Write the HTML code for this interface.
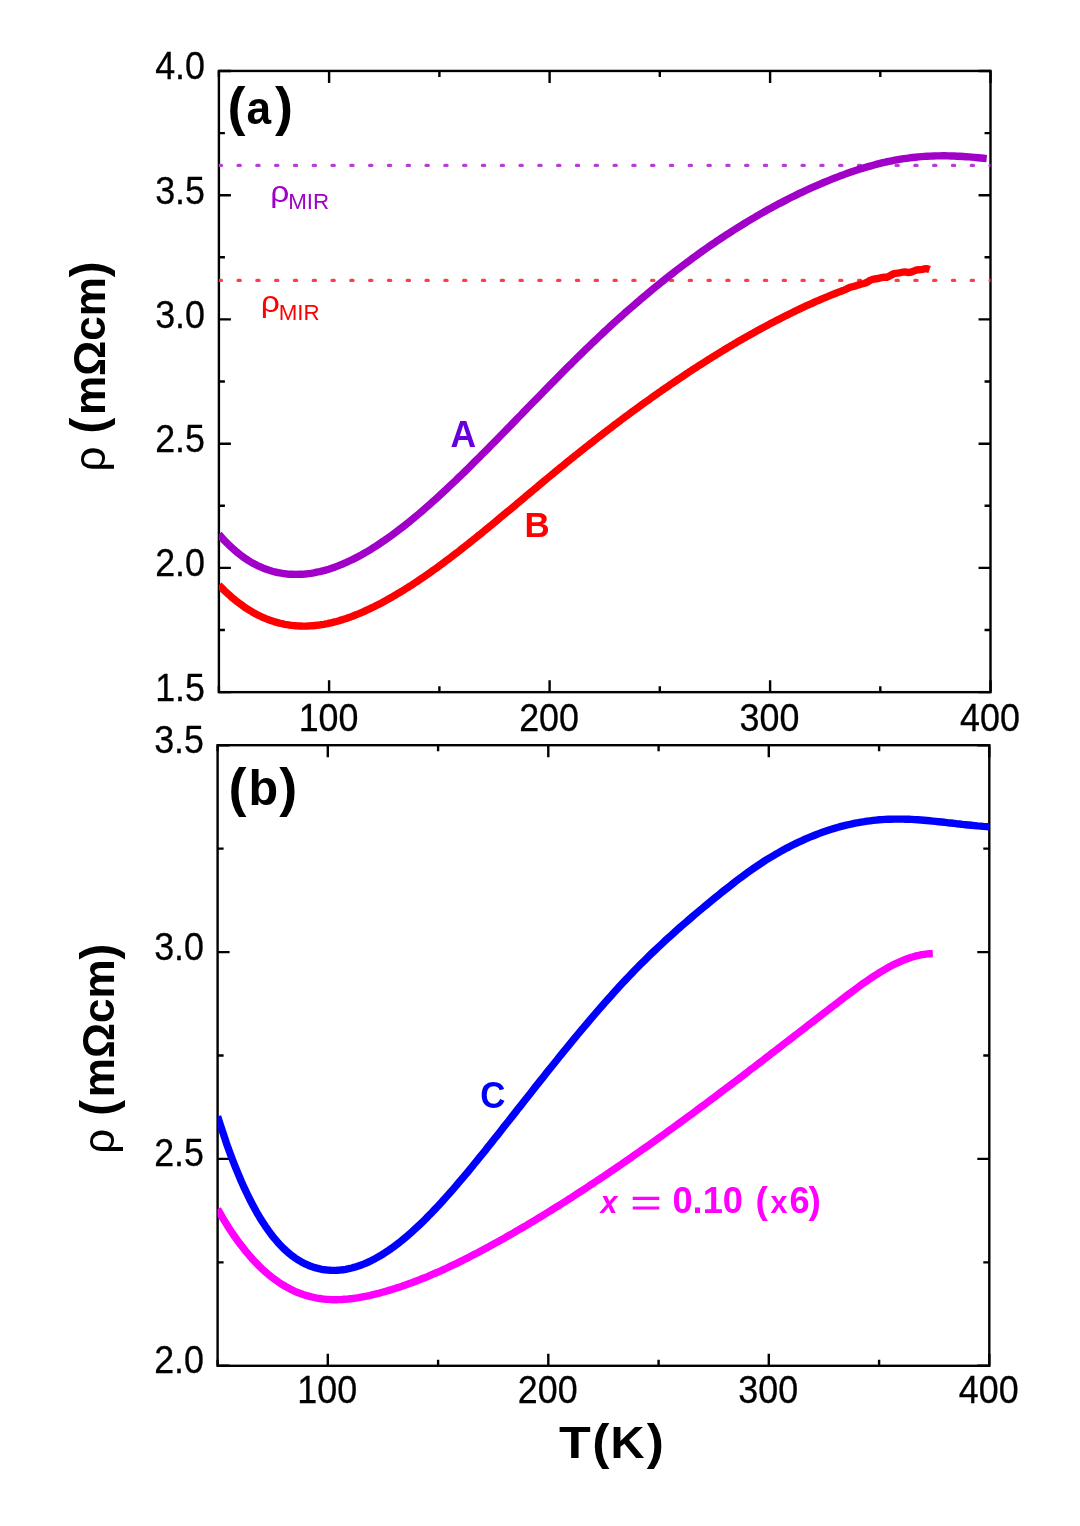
<!DOCTYPE html>
<html><head><meta charset="utf-8"><title>Resistivity</title>
<style>html,body{margin:0;padding:0;background:#fff}svg{display:block;will-change:transform}text{font-family:"Liberation Sans",sans-serif}</style></head><body>
<svg width="1080" height="1526" viewBox="0 0 1080 1526">
<rect width="1080" height="1526" fill="#fff"/>
<rect x="218.9" y="70.95" width="771.6" height="621.2" fill="none" stroke="#000" stroke-width="2.4"/>
<path d="M218.9,692.15v-6.0M218.9,70.95v6.0M329.1,692.15v-12.0M329.1,70.95v12.0M439.4,692.15v-6.0M439.4,70.95v6.0M549.6,692.15v-12.0M549.6,70.95v12.0M659.8,692.15v-6.0M659.8,70.95v6.0M770.1,692.15v-12.0M770.1,70.95v12.0M880.3,692.15v-6.0M880.3,70.95v6.0M990.5,692.15v-12.0M990.5,70.95v12.0M218.9,71.0h12.0M990.55,71.0h-12.0M218.9,195.2h12.0M990.55,195.2h-12.0M218.9,319.4h12.0M990.55,319.4h-12.0M218.9,443.7h12.0M990.55,443.7h-12.0M218.9,567.9h12.0M990.55,567.9h-12.0M218.9,692.1h12.0M990.55,692.1h-12.0M218.9,133.1h6.0M990.55,133.1h-6.0M218.9,257.3h6.0M990.55,257.3h-6.0M218.9,381.5h6.0M990.55,381.5h-6.0M218.9,505.8h6.0M990.55,505.8h-6.0M218.9,630.0h6.0M990.55,630.0h-6.0" fill="none" stroke="#000" stroke-width="2.4"/>
<clipPath id="ca"><rect x="218.9" y="70.95" width="771.6" height="621.2"/></clipPath>
<g clip-path="url(#ca)">
<path d="M219.2,165.4H993.55" stroke="#B93CD7" stroke-width="3.2" stroke-dasharray="2.3 16.5" stroke-linecap="round" fill="none"/>
<path d="M219.2,280.4H993.55" stroke="#FF3D4A" stroke-width="3.2" stroke-dasharray="2.3 16.5" stroke-linecap="round" fill="none"/>
<path d="M218.9,534.3 L221.9,537.7 L224.8,540.9 L227.8,543.9 L230.8,546.7 L233.7,549.4 L236.7,552.0 L239.7,554.4 L242.6,556.6 L245.6,558.7 L248.5,560.6 L251.5,562.4 L254.5,564.0 L257.4,565.6 L260.4,566.9 L263.4,568.2 L266.3,569.3 L269.3,570.3 L272.3,571.2 L275.2,572.0 L278.2,572.6 L281.2,573.2 L284.1,573.6 L287.1,574.0 L290.0,574.2 L293.0,574.3 L296.0,574.4 L298.9,574.3 L301.9,574.2 L304.9,574.0 L307.8,573.7 L310.8,573.3 L313.8,572.8 L316.7,572.2 L319.7,571.6 L322.7,570.9 L325.6,570.1 L328.6,569.2 L331.6,568.2 L334.5,567.2 L337.5,566.1 L340.4,564.9 L343.4,563.7 L346.4,562.4 L349.3,561.0 L352.3,559.6 L355.3,558.1 L358.2,556.6 L361.2,555.0 L364.2,553.3 L367.1,551.6 L370.1,549.8 L373.1,547.9 L376.0,546.1 L379.0,544.1 L381.9,542.1 L384.9,540.1 L387.9,538.0 L390.8,535.9 L393.8,533.7 L396.8,531.5 L399.7,529.3 L402.7,527.0 L405.7,524.7 L408.6,522.3 L411.6,519.9 L414.6,517.4 L417.5,515.0 L420.5,512.5 L423.4,509.9 L426.4,507.3 L429.4,504.7 L432.3,502.1 L435.3,499.4 L438.3,496.7 L441.2,494.0 L444.2,491.3 L447.2,488.5 L450.1,485.7 L453.1,482.9 L456.1,480.1 L459.0,477.2 L462.0,474.4 L465.0,471.5 L467.9,468.6 L470.9,465.6 L473.8,462.7 L476.8,459.7 L479.8,456.8 L482.7,453.8 L485.7,450.8 L488.7,447.8 L491.6,444.8 L494.6,441.8 L497.6,438.8 L500.5,435.8 L503.5,432.7 L506.5,429.7 L509.4,426.7 L512.4,423.6 L515.3,420.6 L518.3,417.5 L521.3,414.5 L524.2,411.4 L527.2,408.4 L530.2,405.3 L533.1,402.3 L536.1,399.3 L539.1,396.2 L542.0,393.2 L545.0,390.2 L548.0,387.1 L550.9,384.1 L553.9,381.1 L556.9,378.1 L559.8,375.1 L562.8,372.1 L565.7,369.2 L568.7,366.2 L571.7,363.3 L574.6,360.3 L577.6,357.4 L580.6,354.5 L583.5,351.6 L586.5,348.7 L589.5,345.9 L592.4,343.0 L595.4,340.2 L598.4,337.4 L601.3,334.6 L604.3,331.8 L607.2,329.1 L610.2,326.3 L613.2,323.6 L616.1,320.9 L619.1,318.2 L622.1,315.6 L625.0,312.9 L628.0,310.3 L631.0,307.7 L633.9,305.2 L636.9,302.6 L639.9,300.1 L642.8,297.5 L645.8,295.1 L648.7,292.6 L651.7,290.1 L654.7,287.7 L657.6,285.3 L660.6,282.9 L663.6,280.5 L666.5,278.1 L669.5,275.8 L672.5,273.5 L675.4,271.2 L678.4,268.9 L681.4,266.6 L684.3,264.4 L687.3,262.2 L690.3,260.0 L693.2,257.8 L696.2,255.7 L699.1,253.5 L702.1,251.4 L705.1,249.3 L708.0,247.2 L711.0,245.2 L714.0,243.2 L716.9,241.1 L719.9,239.2 L722.9,237.2 L725.8,235.2 L728.8,233.3 L731.8,231.4 L734.7,229.5 L737.7,227.6 L740.6,225.8 L743.6,224.0 L746.6,222.1 L749.5,220.4 L752.5,218.6 L755.5,216.9 L758.4,215.1 L761.4,213.4 L764.4,211.7 L767.3,210.1 L770.3,208.4 L773.3,206.8 L776.2,205.2 L779.2,203.6 L782.2,202.1 L785.1,200.6 L788.1,199.0 L791.0,197.5 L794.0,196.1 L797.0,194.6 L799.9,193.2 L802.9,191.8 L805.9,190.4 L808.8,189.0 L811.8,187.7 L814.8,186.4 L817.7,185.1 L820.7,183.8 L823.7,182.5 L826.6,181.3 L829.6,180.1 L832.5,178.9 L835.5,177.7 L838.5,176.6 L841.4,175.4 L844.4,174.4 L847.4,173.3 L850.3,172.3 L853.3,171.2 L856.3,170.3 L859.2,169.3 L862.2,168.4 L865.2,167.5 L868.1,166.6 L871.1,165.8 L874.0,165.0 L877.0,164.2 L880.0,163.4 L882.9,162.7 L885.9,162.0 L888.9,161.4 L891.8,160.8 L894.8,160.2 L897.8,159.7 L900.7,159.2 L903.7,158.7 L906.7,158.3 L909.6,157.9 L912.6,157.5 L915.6,157.2 L918.5,156.9 L921.5,156.6 L924.4,156.4 L927.4,156.2 L930.4,156.1 L933.3,156.0 L936.3,155.9 L939.3,155.9 L942.2,155.8 L945.2,155.8 L948.2,155.9 L951.1,156.0 L954.1,156.0 L957.1,156.2 L960.0,156.3 L963.0,156.5 L965.9,156.7 L968.9,156.9 L971.9,157.1 L974.8,157.4 L977.8,157.7 L980.8,158.0 L983.7,158.3 L986.7,158.6" fill="none" stroke="#A000C8" stroke-width="7.4" stroke-linejoin="round"/>
<path d="M218.9,585.0 L220.7,586.8 L222.5,588.6 L224.2,590.4 L226.0,592.1 L227.8,593.7 L229.6,595.3 L231.4,596.9 L233.1,598.4 L234.9,599.9 L236.7,601.3 L238.5,602.7 L240.3,604.0 L242.1,605.3 L243.8,606.6 L245.6,607.8 L247.4,609.0 L249.2,610.1 L251.0,611.2 L252.7,612.2 L254.5,613.2 L256.3,614.2 L258.1,615.1 L259.9,616.0 L261.6,616.8 L263.4,617.6 L265.2,618.4 L267.0,619.1 L268.8,619.8 L270.6,620.4 L272.3,621.0 L274.1,621.6 L275.9,622.1 L277.7,622.6 L279.5,623.1 L281.2,623.5 L283.0,623.9 L284.8,624.3 L286.6,624.6 L288.4,624.9 L290.1,625.2 L291.9,625.4 L293.7,625.6 L295.5,625.7 L297.3,625.9 L299.1,626.0 L300.8,626.0 L302.6,626.1 L304.4,626.1 L306.2,626.1 L308.0,626.0 L309.7,625.9 L311.5,625.8 L313.3,625.7 L315.1,625.5 L316.9,625.3 L318.6,625.1 L320.4,624.8 L322.2,624.6 L324.0,624.3 L325.8,623.9 L327.6,623.6 L329.3,623.2 L331.1,622.8 L332.9,622.4 L334.7,621.9 L336.5,621.5 L338.2,621.0 L340.0,620.4 L341.8,619.9 L343.6,619.3 L345.4,618.8 L347.1,618.2 L348.9,617.5 L350.7,616.9 L352.5,616.2 L354.3,615.5 L356.1,614.8 L357.8,614.1 L359.6,613.4 L361.4,612.6 L363.2,611.8 L365.0,611.0 L366.7,610.2 L368.5,609.4 L370.3,608.5 L372.1,607.7 L373.9,606.8 L375.6,605.9 L377.4,605.0 L379.2,604.1 L381.0,603.2 L382.8,602.2 L384.6,601.2 L386.3,600.3 L388.1,599.3 L389.9,598.3 L391.7,597.3 L393.5,596.2 L395.2,595.2 L397.0,594.1 L398.8,593.1 L400.6,592.0 L402.4,590.9 L404.1,589.8 L405.9,588.7 L407.7,587.6 L409.5,586.4 L411.3,585.3 L413.1,584.1 L414.8,583.0 L416.6,581.8 L418.4,580.6 L420.2,579.4 L422.0,578.2 L423.7,577.0 L425.5,575.8 L427.3,574.5 L429.1,573.3 L430.9,572.0 L432.6,570.7 L434.4,569.5 L436.2,568.2 L438.0,566.9 L439.8,565.6 L441.6,564.3 L443.3,563.0 L445.1,561.6 L446.9,560.3 L448.7,559.0 L450.5,557.6 L452.2,556.3 L454.0,554.9 L455.8,553.5 L457.6,552.2 L459.4,550.8 L461.1,549.4 L462.9,548.0 L464.7,546.6 L466.5,545.2 L468.3,543.8 L470.0,542.4 L471.8,541.0 L473.6,539.5 L475.4,538.1 L477.2,536.7 L479.0,535.2 L480.7,533.8 L482.5,532.3 L484.3,530.9 L486.1,529.4 L487.9,528.0 L489.6,526.5 L491.4,525.1 L493.2,523.6 L495.0,522.1 L496.8,520.6 L498.5,519.2 L500.3,517.7 L502.1,516.2 L503.9,514.7 L505.7,513.2 L507.5,511.7 L509.2,510.3 L511.0,508.8 L512.8,507.3 L514.6,505.8 L516.4,504.3 L518.1,502.8 L519.9,501.3 L521.7,499.8 L523.5,498.3 L525.3,496.8 L527.0,495.3 L528.8,493.8 L530.6,492.3 L532.4,490.8 L534.2,489.4 L536.0,487.9 L537.7,486.4 L539.5,484.9 L541.3,483.4 L543.1,481.9 L544.9,480.4 L546.6,479.0 L548.4,477.5 L550.2,476.0 L552.0,474.5 L553.8,473.1 L555.5,471.6 L557.3,470.1 L559.1,468.7 L560.9,467.2 L562.7,465.8 L564.5,464.3 L566.2,462.9 L568.0,461.4 L569.8,460.0 L571.6,458.5 L573.4,457.1 L575.1,455.7 L576.9,454.3 L578.7,452.8 L580.5,451.4 L582.3,450.0 L584.0,448.6 L585.8,447.2 L587.6,445.8 L589.4,444.4 L591.2,443.0 L593.0,441.6 L594.7,440.2 L596.5,438.8 L598.3,437.4 L600.1,436.0 L601.9,434.6 L603.6,433.3 L605.4,431.9 L607.2,430.5 L609.0,429.2 L610.8,427.8 L612.5,426.5 L614.3,425.1 L616.1,423.8 L617.9,422.4 L619.7,421.1 L621.5,419.7 L623.2,418.4 L625.0,417.1 L626.8,415.8 L628.6,414.4 L630.4,413.1 L632.1,411.8 L633.9,410.5 L635.7,409.2 L637.5,407.9 L639.3,406.6 L641.0,405.3 L642.8,404.0 L644.6,402.7 L646.4,401.5 L648.2,400.2 L650.0,398.9 L651.7,397.6 L653.5,396.4 L655.3,395.1 L657.1,393.9 L658.9,392.6 L660.6,391.4 L662.4,390.1 L664.2,388.9 L666.0,387.7 L667.8,386.4 L669.5,385.2 L671.3,384.0 L673.1,382.8 L674.9,381.6 L676.7,380.4 L678.5,379.2 L680.2,378.0 L682.0,376.8 L683.8,375.6 L685.6,374.4 L687.4,373.2 L689.1,372.0 L690.9,370.9 L692.7,369.7 L694.5,368.5 L696.3,367.4 L698.0,366.2 L699.8,365.1 L701.6,364.0 L703.4,362.8 L705.2,361.7 L706.9,360.6 L708.7,359.4 L710.5,358.3 L712.3,357.2 L714.1,356.1 L715.9,355.0 L717.6,353.9 L719.4,352.8 L721.2,351.7 L723.0,350.6 L724.8,349.5 L726.5,348.5 L728.3,347.4 L730.1,346.3 L731.9,345.3 L733.7,344.2 L735.4,343.2 L737.2,342.1 L739.0,341.1 L740.8,340.1 L742.6,339.0 L744.4,338.0 L746.1,337.0 L747.9,336.0 L749.7,335.0 L751.5,334.0 L753.3,333.0 L755.0,332.0 L756.8,331.0 L758.6,330.0 L760.4,329.1 L762.2,328.1 L763.9,327.1 L765.7,326.2 L767.5,325.2 L769.3,324.3 L771.1,323.3 L772.9,322.4 L774.6,321.5 L776.4,320.5 L778.2,319.6 L780.0,318.7 L781.8,317.8 L783.5,316.9 L785.3,316.0 L787.1,315.1 L788.9,314.2 L790.7,313.3 L792.4,312.5 L794.2,311.6 L796.0,310.7 L797.8,309.9 L799.6,309.0 L801.4,308.2 L803.1,307.4 L804.9,306.5 L806.7,305.7 L808.5,304.9 L810.3,304.1 L812.0,303.3 L813.8,302.5 L815.6,301.7 L817.4,300.9 L819.2,300.2 L820.9,299.4 L822.7,298.6 L824.5,297.9 L826.3,297.1 L828.1,296.4 L829.9,295.6 L831.6,294.9 L833.4,294.2 L835.2,293.5 L837.0,292.8 L838.8,292.1 L840.5,291.5 L842.3,290.8 L844.1,290.1 L845.9,289.3 L847.7,288.4 L849.4,287.6 L851.2,287.0 L853.0,286.6 L854.8,286.2 L856.6,285.6 L858.4,285.0 L860.1,284.4 L861.9,283.9 L863.7,283.5 L865.5,283.0 L867.3,282.2 L869.0,281.1 L870.8,280.1 L872.6,279.4 L874.4,279.0 L876.2,278.8 L877.9,278.5 L879.7,278.0 L881.5,277.6 L883.3,277.3 L885.1,277.3 L886.9,277.2 L888.6,276.6 L890.4,275.6 L892.2,274.5 L894.0,273.7 L895.8,273.3 L897.5,273.1 L899.3,272.9 L901.1,272.5 L902.9,272.1 L904.7,272.0 L906.4,272.2 L908.2,272.5 L910.0,272.4 L911.8,271.9 L913.6,271.1 L915.4,270.3 L917.1,269.9 L918.9,269.7 L920.7,269.6 L922.5,269.3 L924.3,268.9 L926.0,268.7 L927.8,269.0 L929.6,269.6" fill="none" stroke="#FF0000" stroke-width="7.4" stroke-linejoin="round"/>
</g>
<g><text transform="translate(104.60,471.50) rotate(-90)" font-size="44" fill="#000">ρ</text>
<text transform="translate(105.10,433.50) rotate(-90) scale(0.95,1)" font-size="50" fill="#000" font-weight="bold">(</text>
<text transform="translate(104.60,415.10) rotate(-90)" font-size="44" fill="#000" font-weight="bold">mΩcm</text>
<text transform="translate(105.10,277.30) rotate(-90) scale(0.95,1)" font-size="50" fill="#000" font-weight="bold">)</text></g>
<rect x="217.6" y="745.2" width="771.7" height="620.6" fill="none" stroke="#000" stroke-width="2.4"/>
<path d="M217.6,1365.8v-6.0M217.6,745.2v6.0M327.8,1365.8v-12.0M327.8,745.2v12.0M438.1,1365.8v-6.0M438.1,745.2v6.0M548.3,1365.8v-12.0M548.3,745.2v12.0M658.6,1365.8v-6.0M658.6,745.2v6.0M768.8,1365.8v-12.0M768.8,745.2v12.0M879.1,1365.8v-6.0M879.1,745.2v6.0M989.3,1365.8v-12.0M989.3,745.2v12.0M217.6,745.2h12.0M989.3,745.2h-12.0M217.6,952.1h12.0M989.3,952.1h-12.0M217.6,1158.9h12.0M989.3,1158.9h-12.0M217.6,1365.8h12.0M989.3,1365.8h-12.0M217.6,848.6h6.0M989.3,848.6h-6.0M217.6,1055.5h6.0M989.3,1055.5h-6.0M217.6,1262.4h6.0M989.3,1262.4h-6.0" fill="none" stroke="#000" stroke-width="2.4"/>
<clipPath id="cb"><rect x="217.6" y="745.2" width="771.7" height="620.6"/></clipPath>
<g clip-path="url(#cb)">
<path d="M217.6,1116.3 L220.6,1125.7 L223.6,1134.7 L226.5,1143.4 L229.5,1151.7 L232.5,1159.7 L235.5,1167.3 L238.5,1174.6 L241.4,1181.5 L244.4,1188.2 L247.4,1194.5 L250.4,1200.5 L253.4,1206.2 L256.3,1211.6 L259.3,1216.7 L262.3,1221.5 L265.3,1226.1 L268.3,1230.4 L271.2,1234.4 L274.2,1238.2 L277.2,1241.7 L280.2,1245.0 L283.1,1248.0 L286.1,1250.8 L289.1,1253.4 L292.1,1255.8 L295.1,1258.0 L298.0,1259.9 L301.0,1261.7 L304.0,1263.3 L307.0,1264.7 L310.0,1266.0 L312.9,1267.0 L315.9,1267.9 L318.9,1268.7 L321.9,1269.3 L324.9,1269.8 L327.8,1270.1 L330.8,1270.3 L333.8,1270.4 L336.8,1270.3 L339.8,1270.1 L342.7,1269.8 L345.7,1269.3 L348.7,1268.7 L351.7,1268.0 L354.7,1267.2 L357.6,1266.3 L360.6,1265.2 L363.6,1264.1 L366.6,1262.8 L369.6,1261.5 L372.5,1260.0 L375.5,1258.4 L378.5,1256.7 L381.5,1255.0 L384.5,1253.1 L387.4,1251.2 L390.4,1249.1 L393.4,1247.0 L396.4,1244.8 L399.4,1242.5 L402.3,1240.1 L405.3,1237.6 L408.3,1235.1 L411.3,1232.4 L414.2,1229.8 L417.2,1227.0 L420.2,1224.2 L423.2,1221.3 L426.2,1218.4 L429.1,1215.3 L432.1,1212.3 L435.1,1209.1 L438.1,1206.0 L441.1,1202.7 L444.0,1199.5 L447.0,1196.1 L450.0,1192.8 L453.0,1189.4 L456.0,1185.9 L458.9,1182.4 L461.9,1178.9 L464.9,1175.4 L467.9,1171.8 L470.9,1168.2 L473.8,1164.5 L476.8,1160.9 L479.8,1157.2 L482.8,1153.5 L485.8,1149.8 L488.7,1146.0 L491.7,1142.3 L494.7,1138.5 L497.7,1134.8 L500.7,1131.0 L503.6,1127.2 L506.6,1123.5 L509.6,1119.7 L512.6,1115.9 L515.6,1112.1 L518.5,1108.3 L521.5,1104.6 L524.5,1100.8 L527.5,1097.0 L530.5,1093.2 L533.4,1089.4 L536.4,1085.7 L539.4,1081.9 L542.4,1078.2 L545.3,1074.4 L548.3,1070.7 L551.3,1067.0 L554.3,1063.2 L557.3,1059.5 L560.2,1055.8 L563.2,1052.2 L566.2,1048.5 L569.2,1044.8 L572.2,1041.2 L575.1,1037.6 L578.1,1034.0 L581.1,1030.4 L584.1,1026.9 L587.1,1023.3 L590.0,1019.8 L593.0,1016.3 L596.0,1012.8 L599.0,1009.4 L602.0,1006.0 L604.9,1002.6 L607.9,999.2 L610.9,995.9 L613.9,992.6 L616.9,989.3 L619.8,986.0 L622.8,982.8 L625.8,979.6 L628.8,976.5 L631.8,973.4 L634.7,970.3 L637.7,967.2 L640.7,964.2 L643.7,961.3 L646.7,958.3 L649.6,955.4 L652.6,952.5 L655.6,949.7 L658.6,946.9 L661.6,944.1 L664.5,941.3 L667.5,938.6 L670.5,935.9 L673.5,933.2 L676.4,930.5 L679.4,927.9 L682.4,925.3 L685.4,922.7 L688.4,920.1 L691.3,917.6 L694.3,915.0 L697.3,912.5 L700.3,910.0 L703.3,907.5 L706.2,905.1 L709.2,902.6 L712.2,900.2 L715.2,897.7 L718.2,895.3 L721.1,892.9 L724.1,890.5 L727.1,888.2 L730.1,885.8 L733.1,883.5 L736.0,881.2 L739.0,878.9 L742.0,876.7 L745.0,874.5 L748.0,872.3 L750.9,870.2 L753.9,868.1 L756.9,866.1 L759.9,864.1 L762.9,862.1 L765.8,860.2 L768.8,858.4 L771.8,856.6 L774.8,854.8 L777.8,853.1 L780.7,851.4 L783.7,849.7 L786.7,848.1 L789.7,846.6 L792.7,845.0 L795.6,843.6 L798.6,842.2 L801.6,840.8 L804.6,839.4 L807.5,838.1 L810.5,836.9 L813.5,835.7 L816.5,834.5 L819.5,833.4 L822.4,832.3 L825.4,831.3 L828.4,830.3 L831.4,829.3 L834.4,828.4 L837.3,827.5 L840.3,826.7 L843.3,825.9 L846.3,825.2 L849.3,824.5 L852.2,823.8 L855.2,823.2 L858.2,822.7 L861.2,822.1 L864.2,821.7 L867.1,821.2 L870.1,820.8 L873.1,820.4 L876.1,820.1 L879.1,819.8 L882.0,819.6 L885.0,819.4 L888.0,819.3 L891.0,819.2 L894.0,819.1 L896.9,819.1 L899.9,819.1 L902.9,819.1 L905.9,819.2 L908.9,819.3 L911.8,819.4 L914.8,819.6 L917.8,819.8 L920.8,820.0 L923.8,820.2 L926.7,820.5 L929.7,820.8 L932.7,821.1 L935.7,821.4 L938.6,821.7 L941.6,822.0 L944.6,822.3 L947.6,822.7 L950.6,823.0 L953.5,823.3 L956.5,823.7 L959.5,824.0 L962.5,824.4 L965.5,824.7 L968.4,825.0 L971.4,825.3 L974.4,825.6 L977.4,825.9 L980.4,826.1 L983.3,826.4 L986.3,826.6 L989.3,826.8" fill="none" stroke="#0000FF" stroke-width="7.4" stroke-linejoin="round"/>
<path d="M217.6,1209.0 L220.4,1213.9 L223.1,1218.6 L225.9,1223.1 L228.6,1227.5 L231.4,1231.7 L234.2,1235.8 L236.9,1239.7 L239.7,1243.4 L242.5,1247.1 L245.2,1250.6 L248.0,1253.9 L250.7,1257.1 L253.5,1260.2 L256.3,1263.1 L259.0,1265.9 L261.8,1268.6 L264.5,1271.1 L267.3,1273.5 L270.1,1275.8 L272.8,1278.0 L275.6,1280.0 L278.4,1282.0 L281.1,1283.8 L283.9,1285.5 L286.6,1287.1 L289.4,1288.6 L292.2,1290.0 L294.9,1291.3 L297.7,1292.5 L300.4,1293.5 L303.2,1294.5 L306.0,1295.4 L308.7,1296.2 L311.5,1296.9 L314.2,1297.5 L317.0,1298.1 L319.8,1298.5 L322.5,1298.9 L325.3,1299.2 L328.1,1299.4 L330.8,1299.6 L333.6,1299.7 L336.3,1299.7 L339.1,1299.6 L341.9,1299.5 L344.6,1299.3 L347.4,1299.1 L350.1,1298.8 L352.9,1298.5 L355.7,1298.1 L358.4,1297.7 L361.2,1297.2 L364.0,1296.6 L366.7,1296.1 L369.5,1295.5 L372.2,1294.8 L375.0,1294.2 L377.8,1293.5 L380.5,1292.8 L383.3,1292.0 L386.0,1291.2 L388.8,1290.4 L391.6,1289.6 L394.3,1288.7 L397.1,1287.8 L399.9,1286.9 L402.6,1286.0 L405.4,1285.0 L408.1,1284.1 L410.9,1283.1 L413.7,1282.0 L416.4,1281.0 L419.2,1279.9 L421.9,1278.8 L424.7,1277.7 L427.5,1276.6 L430.2,1275.4 L433.0,1274.2 L435.7,1273.0 L438.5,1271.8 L441.3,1270.6 L444.0,1269.3 L446.8,1268.0 L449.6,1266.7 L452.3,1265.4 L455.1,1264.1 L457.8,1262.8 L460.6,1261.4 L463.4,1260.0 L466.1,1258.7 L468.9,1257.2 L471.6,1255.8 L474.4,1254.4 L477.2,1253.0 L479.9,1251.5 L482.7,1250.0 L485.5,1248.5 L488.2,1247.1 L491.0,1245.5 L493.7,1244.0 L496.5,1242.5 L499.3,1241.0 L502.0,1239.4 L504.8,1237.9 L507.5,1236.3 L510.3,1234.7 L513.1,1233.1 L515.8,1231.5 L518.6,1229.9 L521.4,1228.3 L524.1,1226.7 L526.9,1225.1 L529.6,1223.4 L532.4,1221.8 L535.2,1220.1 L537.9,1218.4 L540.7,1216.8 L543.4,1215.1 L546.2,1213.4 L549.0,1211.7 L551.7,1210.0 L554.5,1208.2 L557.3,1206.5 L560.0,1204.8 L562.8,1203.0 L565.5,1201.3 L568.3,1199.5 L571.1,1197.8 L573.8,1196.0 L576.6,1194.2 L579.3,1192.4 L582.1,1190.6 L584.9,1188.8 L587.6,1187.0 L590.4,1185.2 L593.1,1183.4 L595.9,1181.5 L598.7,1179.7 L601.4,1177.8 L604.2,1176.0 L607.0,1174.1 L609.7,1172.2 L612.5,1170.4 L615.2,1168.5 L618.0,1166.6 L620.8,1164.7 L623.5,1162.8 L626.3,1160.9 L629.0,1159.0 L631.8,1157.1 L634.6,1155.1 L637.3,1153.2 L640.1,1151.3 L642.9,1149.3 L645.6,1147.4 L648.4,1145.4 L651.1,1143.5 L653.9,1141.5 L656.7,1139.5 L659.4,1137.5 L662.2,1135.6 L664.9,1133.6 L667.7,1131.6 L670.5,1129.6 L673.2,1127.6 L676.0,1125.6 L678.8,1123.5 L681.5,1121.5 L684.3,1119.5 L687.0,1117.5 L689.8,1115.4 L692.6,1113.4 L695.3,1111.4 L698.1,1109.3 L700.8,1107.3 L703.6,1105.2 L706.4,1103.2 L709.1,1101.1 L711.9,1099.0 L714.7,1097.0 L717.4,1094.9 L720.2,1092.8 L722.9,1090.7 L725.7,1088.6 L728.5,1086.6 L731.2,1084.5 L734.0,1082.4 L736.7,1080.3 L739.5,1078.2 L742.3,1076.1 L745.0,1074.0 L747.8,1071.8 L750.5,1069.7 L753.3,1067.6 L756.1,1065.5 L758.8,1063.4 L761.6,1061.3 L764.4,1059.1 L767.1,1057.0 L769.9,1054.9 L772.6,1052.7 L775.4,1050.6 L778.2,1048.5 L780.9,1046.4 L783.7,1044.2 L786.4,1042.1 L789.2,1040.0 L792.0,1037.8 L794.7,1035.7 L797.5,1033.6 L800.3,1031.4 L803.0,1029.3 L805.8,1027.2 L808.5,1025.0 L811.3,1022.9 L814.1,1020.8 L816.8,1018.6 L819.6,1016.5 L822.3,1014.4 L825.1,1012.2 L827.9,1010.1 L830.6,1008.0 L833.4,1005.9 L836.2,1003.8 L838.9,1001.6 L841.7,999.5 L844.4,997.4 L847.2,995.3 L850.0,993.2 L852.7,991.2 L855.5,989.1 L858.2,987.1 L861.0,985.1 L863.8,983.1 L866.5,981.2 L869.3,979.3 L872.0,977.4 L874.8,975.6 L877.6,973.9 L880.3,972.1 L883.1,970.5 L885.9,968.9 L888.6,967.3 L891.4,965.8 L894.1,964.4 L896.9,963.1 L899.7,961.8 L902.4,960.6 L905.2,959.5 L907.9,958.5 L910.7,957.5 L913.5,956.7 L916.2,955.9 L919.0,955.3 L921.8,954.7 L924.5,954.3 L927.3,953.9 L930.0,953.7 L932.8,953.6" fill="none" stroke="#FF00FF" stroke-width="7.4" stroke-linejoin="round"/>
</g>
<path d="M632.7,1198.4h26.6M632.7,1208.0h26.6" stroke="#FF00FF" stroke-width="3.2" fill="none"/>
<g><text transform="translate(114.20,1153.70) rotate(-90)" font-size="44" fill="#000">ρ</text>
<text transform="translate(114.70,1115.70) rotate(-90) scale(0.95,1)" font-size="50" fill="#000" font-weight="bold">(</text>
<text transform="translate(114.20,1097.30) rotate(-90)" font-size="44" fill="#000" font-weight="bold">mΩcm</text>
<text transform="translate(114.70,959.50) rotate(-90) scale(0.95,1)" font-size="50" fill="#000" font-weight="bold">)</text></g>
<g><text transform="translate(205.00,79.40) scale(0.905,1)" font-size="39.6" fill="#000" text-anchor="end" stroke="#000" stroke-width="0.3">4.0</text>
<text transform="translate(205.00,203.64) scale(0.905,1)" font-size="39.6" fill="#000" text-anchor="end" stroke="#000" stroke-width="0.3">3.5</text>
<text transform="translate(205.00,327.88) scale(0.905,1)" font-size="39.6" fill="#000" text-anchor="end" stroke="#000" stroke-width="0.3">3.0</text>
<text transform="translate(205.00,452.12) scale(0.905,1)" font-size="39.6" fill="#000" text-anchor="end" stroke="#000" stroke-width="0.3">2.5</text>
<text transform="translate(205.00,576.36) scale(0.905,1)" font-size="39.6" fill="#000" text-anchor="end" stroke="#000" stroke-width="0.3">2.0</text>
<text transform="translate(205.00,700.60) scale(0.905,1)" font-size="39.6" fill="#000" text-anchor="end" stroke="#000" stroke-width="0.3">1.5</text>
<text transform="translate(328.54,730.60) scale(0.905,1)" font-size="39.6" fill="#000" text-anchor="middle" stroke="#000" stroke-width="0.3">100</text>
<text transform="translate(549.01,730.60) scale(0.905,1)" font-size="39.6" fill="#000" text-anchor="middle" stroke="#000" stroke-width="0.3">200</text>
<text transform="translate(769.48,730.60) scale(0.905,1)" font-size="39.6" fill="#000" text-anchor="middle" stroke="#000" stroke-width="0.3">300</text>
<text transform="translate(989.95,730.60) scale(0.905,1)" font-size="39.6" fill="#000" text-anchor="middle" stroke="#000" stroke-width="0.3">400</text>
<text transform="translate(227.40,125.30)" font-size="54" fill="#000" font-weight="bold">(</text>
<text transform="translate(246.40,124.20) scale(0.94,1)" font-size="47" fill="#000" font-weight="bold">a</text>
<text transform="translate(274.90,125.30)" font-size="54" fill="#000" font-weight="bold">)</text>
<text transform="translate(270.20,201.60) scale(1.12,1)" font-size="30" fill="#A000C8">ρ</text>
<text transform="translate(288.20,208.90)" font-size="22.3" fill="#A000C8">MIR</text>
<text transform="translate(260.80,312.20) scale(1.12,1)" font-size="30" fill="#FF0000">ρ</text>
<text transform="translate(278.80,320.00)" font-size="22.3" fill="#FF0000">MIR</text>
<text transform="translate(450.40,447.10) scale(0.97,1)" font-size="36.5" fill="#6600DD" font-weight="bold">A</text>
<text transform="translate(524.60,537.00) scale(0.98,1)" font-size="35.6" fill="#FF0000" font-weight="bold">B</text>
<text transform="translate(204.00,752.70) scale(0.905,1)" font-size="39.6" fill="#000" text-anchor="end" stroke="#000" stroke-width="0.3">3.5</text>
<text transform="translate(204.00,959.57) scale(0.905,1)" font-size="39.6" fill="#000" text-anchor="end" stroke="#000" stroke-width="0.3">3.0</text>
<text transform="translate(204.00,1166.43) scale(0.905,1)" font-size="39.6" fill="#000" text-anchor="end" stroke="#000" stroke-width="0.3">2.5</text>
<text transform="translate(204.00,1373.30) scale(0.905,1)" font-size="39.6" fill="#000" text-anchor="end" stroke="#000" stroke-width="0.3">2.0</text>
<text transform="translate(327.24,1403.30) scale(0.905,1)" font-size="39.6" fill="#000" text-anchor="middle" stroke="#000" stroke-width="0.3">100</text>
<text transform="translate(547.73,1403.30) scale(0.905,1)" font-size="39.6" fill="#000" text-anchor="middle" stroke="#000" stroke-width="0.3">200</text>
<text transform="translate(768.21,1403.30) scale(0.905,1)" font-size="39.6" fill="#000" text-anchor="middle" stroke="#000" stroke-width="0.3">300</text>
<text transform="translate(988.70,1403.30) scale(0.905,1)" font-size="39.6" fill="#000" text-anchor="middle" stroke="#000" stroke-width="0.3">400</text>
<text transform="translate(228.40,806.00)" font-size="54" fill="#000" font-weight="bold">(</text>
<text transform="translate(248.40,805.00) scale(0.97,1)" font-size="50" fill="#000" font-weight="bold">b</text>
<text transform="translate(279.20,806.00)" font-size="54" fill="#000" font-weight="bold">)</text>
<text transform="translate(480.30,1107.80) scale(0.93,1)" font-size="37.5" fill="#0000FF" font-weight="bold">C</text>
<text transform="translate(600.60,1212.70)" font-size="30.5" fill="#FF00FF" font-weight="bold" font-style="italic">x</text>
<text transform="translate(672.40,1212.70)" font-size="36.3" fill="#FF00FF" font-weight="bold">0.10</text>
<text transform="translate(755.60,1212.70)" font-size="37.2" fill="#FF00FF" font-weight="bold">(</text>
<text transform="translate(770.60,1212.70)" font-size="30.5" fill="#FF00FF" font-weight="bold">x</text>
<text transform="translate(789.60,1212.70)" font-size="36.3" fill="#FF00FF" font-weight="bold">6</text>
<text transform="translate(808.60,1212.70)" font-size="37.2" fill="#FF00FF" font-weight="bold">)</text>
<text transform="translate(559.10,1457.80) scale(1.18,1)" font-size="44" fill="#000" font-weight="bold">T</text>
<text transform="translate(592.20,1458.60) scale(1.04,1)" font-size="49.5" fill="#000" font-weight="bold">(</text>
<text transform="translate(610.60,1457.80) scale(1.07,1)" font-size="44" fill="#000" font-weight="bold">K</text>
<text transform="translate(646.80,1458.60) scale(1.04,1)" font-size="49.5" fill="#000" font-weight="bold">)</text></g>
</svg></body></html>
